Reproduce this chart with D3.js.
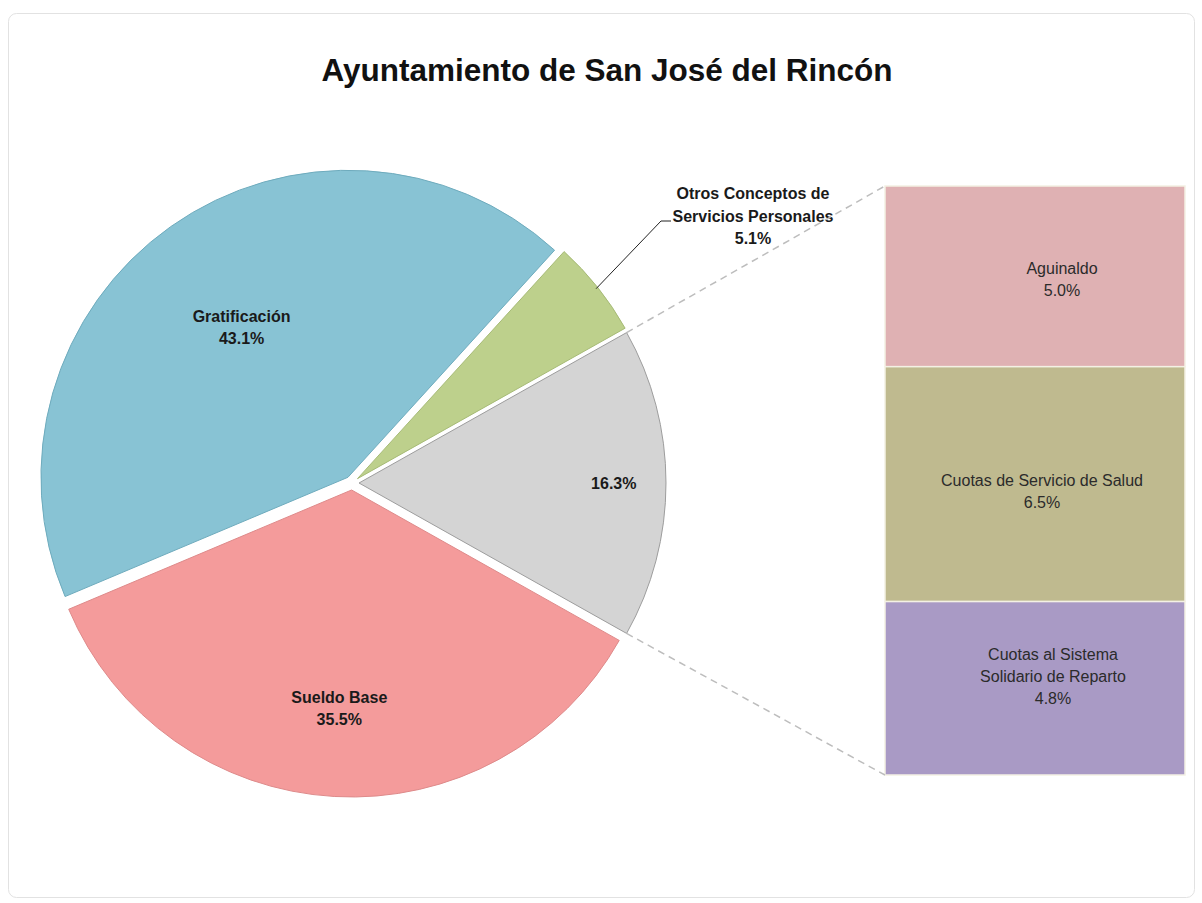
<!DOCTYPE html>
<html>
<head>
<meta charset="utf-8">
<script src="https://cdn.jsdelivr.net/npm/d3@7/dist/d3.min.js"></script>
<style>
  html, body { margin: 0; padding: 0; background: #fff; }
  svg { display: block; font-family: "Liberation Sans", Arial, sans-serif; }
</style>
</head>
<body>
<svg id="chart" width="1202" height="903"></svg>
<script>
// ---- Data ----
const title = "Ayuntamiento de San José del Rincón";
const pieCategories = ["Sueldo Base", "Gratificación", "Otros Conceptos de Servicios Personales"];
const pieValues = [35.5, 43.1, 5.1];
const pieLabelLines = [["Sueldo Base", "35.5%"], ["Gratificación", "43.1%"], ["Otros Conceptos de", "Servicios Personales", "5.1%"]];
const barCategories = ["Aguinaldo", "Cuotas de Servicio de Salud", "Cuotas al Sistema Solidario de Reparto"];
const barValues = [5.0, 6.5, 4.8];
const barLabelLines = [["Aguinaldo", "5.0%"], ["Cuotas de Servicio de Salud", "6.5%"], ["Cuotas al Sistema", "Solidario de Reparto", "4.8%"]];

// ---- Styles / layout ----
const pieColors = ["#f49b9b", "#88c3d4", "#bdd08c"];
const pieStrokes = ["#de8a8a", "#6eabbd", "#a6ba76"];
const restColor = "#d4d4d4", restStroke = "#9d9d9d";
const barColors = ["#dfb1b3", "#bfba8f", "#a99ac5"];

const svg = d3.select("#chart");
svg.append("rect").attr("x", 8.5).attr("y", 13.5).attr("width", 1186).attr("height", 884)
  .attr("rx", 8).attr("fill", "#fff").attr("stroke", "#e2e2e2");

svg.append("text").attr("x", 607).attr("y", 81).attr("text-anchor", "middle")
  .attr("font-size", 31.5).attr("font-weight", "bold").attr("fill", "#111").text(title);

// ---- Pie ----
const cx = 352, cy = 483, R = 307, explode = 7;
const restTotal = d3.sum(barValues);
const allValues = [restTotal].concat(pieValues);
const allColors = [restColor].concat(pieColors);
const allStrokes = [restStroke].concat(pieStrokes);
const total = d3.sum(allValues);
const start = Math.PI / 2 - (restTotal / total) * Math.PI;
const pie = d3.pie().sort(null).value(d => d).startAngle(start).endAngle(start + 2 * Math.PI);
const arcs = pie(allValues);
const arc = d3.arc().innerRadius(0).outerRadius(R);

const g = svg.append("g").attr("transform", `translate(${cx},${cy})`);
const offs = arcs.map(a => {
  const m = (a.startAngle + a.endAngle) / 2;
  return [explode * Math.sin(m), -explode * Math.cos(m)];
});
g.selectAll("path.slice").data(arcs).join("path")
  .attr("class", "slice")
  .attr("transform", (d, i) => `translate(${offs[i][0]},${offs[i][1]})`)
  .attr("d", arc)
  .attr("fill", (d, i) => allColors[i])
  .attr("stroke", (d, i) => allStrokes[i])
  .attr("stroke-width", 1);

// inner labels
const labelRadius = [0.83, 0.71, 0.6];
const innerLabels = [
  { idx: 0, lines: [d3.format(".1f")(restTotal) + "%"], rf: labelRadius[0] },
  { idx: 1, lines: pieLabelLines[0], rf: labelRadius[1] },
  { idx: 2, lines: pieLabelLines[1], rf: labelRadius[2] }
];
innerLabels.forEach(L => {
  const a = arcs[L.idx];
  const m = (a.startAngle + a.endAngle) / 2;
  const x = offs[L.idx][0] + R * L.rf * Math.sin(m);
  const y = offs[L.idx][1] - R * L.rf * Math.cos(m);
  const t = g.append("text").attr("text-anchor", "middle").attr("font-size", 16)
    .attr("font-weight", "bold").attr("fill", "#1a1a1a");
  const n = L.lines.length;
  L.lines.forEach((s, k) => {
    t.append("tspan").attr("x", x).attr("y", y + (k - (n - 1) / 2) * 22 + 6).text(s);
  });
});

// Otros label with leader
{
  const a = arcs[3];
  const m = (a.startAngle + a.endAngle) / 2;
  const px = cx + offs[3][0] + (R - 2) * Math.sin(m);
  const py = cy + offs[3][1] - (R - 2) * Math.cos(m);
  svg.append("polyline").attr("points", `${px},${py} 661,221 671,221`)
    .attr("fill", "none").attr("stroke", "#222").attr("stroke-width", 1);
  const t = svg.append("text").attr("text-anchor", "middle").attr("font-size", 16)
    .attr("font-weight", "bold").attr("fill", "#1a1a1a");
  pieLabelLines[2].forEach((s, k) => {
    t.append("tspan").attr("x", 753).attr("y", 199 + k * 22.5).text(s);
  });
}

// ---- Bar (second plot) ----
const barX = 885, barW = 300, barTop = 186, barBottom = 775;
const y = d3.scaleLinear().domain([0, restTotal]).range([barTop, barBottom]);
const cum = [0];
barValues.forEach(v => cum.push(cum[cum.length - 1] + v));
svg.selectAll("rect.bar").data(barValues).join("rect")
  .attr("class", "bar")
  .attr("x", barX).attr("width", barW)
  .attr("y", (d, i) => y(cum[i]))
  .attr("height", d => y(d) - y(0))
  .attr("fill", (d, i) => barColors[i])
  .attr("stroke", "#f4f1e4").attr("stroke-width", 1.5);

const barLabelDx = [27, 7, 18];
const barLabelY = [279, 491, 676];
barLabelLines.forEach((lines, i) => {
  const t = svg.append("text").attr("text-anchor", "middle").attr("font-size", 16).attr("fill", "#2b2b2b");
  const n = lines.length;
  lines.forEach((s, k) => {
    t.append("tspan").attr("x", barX + barW / 2 + barLabelDx[i]).attr("y", barLabelY[i] + (k - (n - 1) / 2) * 22 + 6).text(s);
  });
});

// ---- Connector lines ----
const restArc = arcs[0];
const rx = cx + offs[0][0], ry = cy + offs[0][1];
const p1 = [rx + R * Math.sin(restArc.startAngle), ry - R * Math.cos(restArc.startAngle)];
const p2 = [rx + R * Math.sin(restArc.endAngle), ry - R * Math.cos(restArc.endAngle)];
[[p1, [barX, y(0)]], [p2, [barX, y(restTotal)]]].forEach(([a, b]) => {
  svg.append("line").attr("x1", a[0]).attr("y1", a[1]).attr("x2", b[0]).attr("y2", b[1])
    .attr("stroke", "#bdbdbd").attr("stroke-width", 1.5).attr("stroke-dasharray", "7,5");
});
</script>
</body>
</html>
